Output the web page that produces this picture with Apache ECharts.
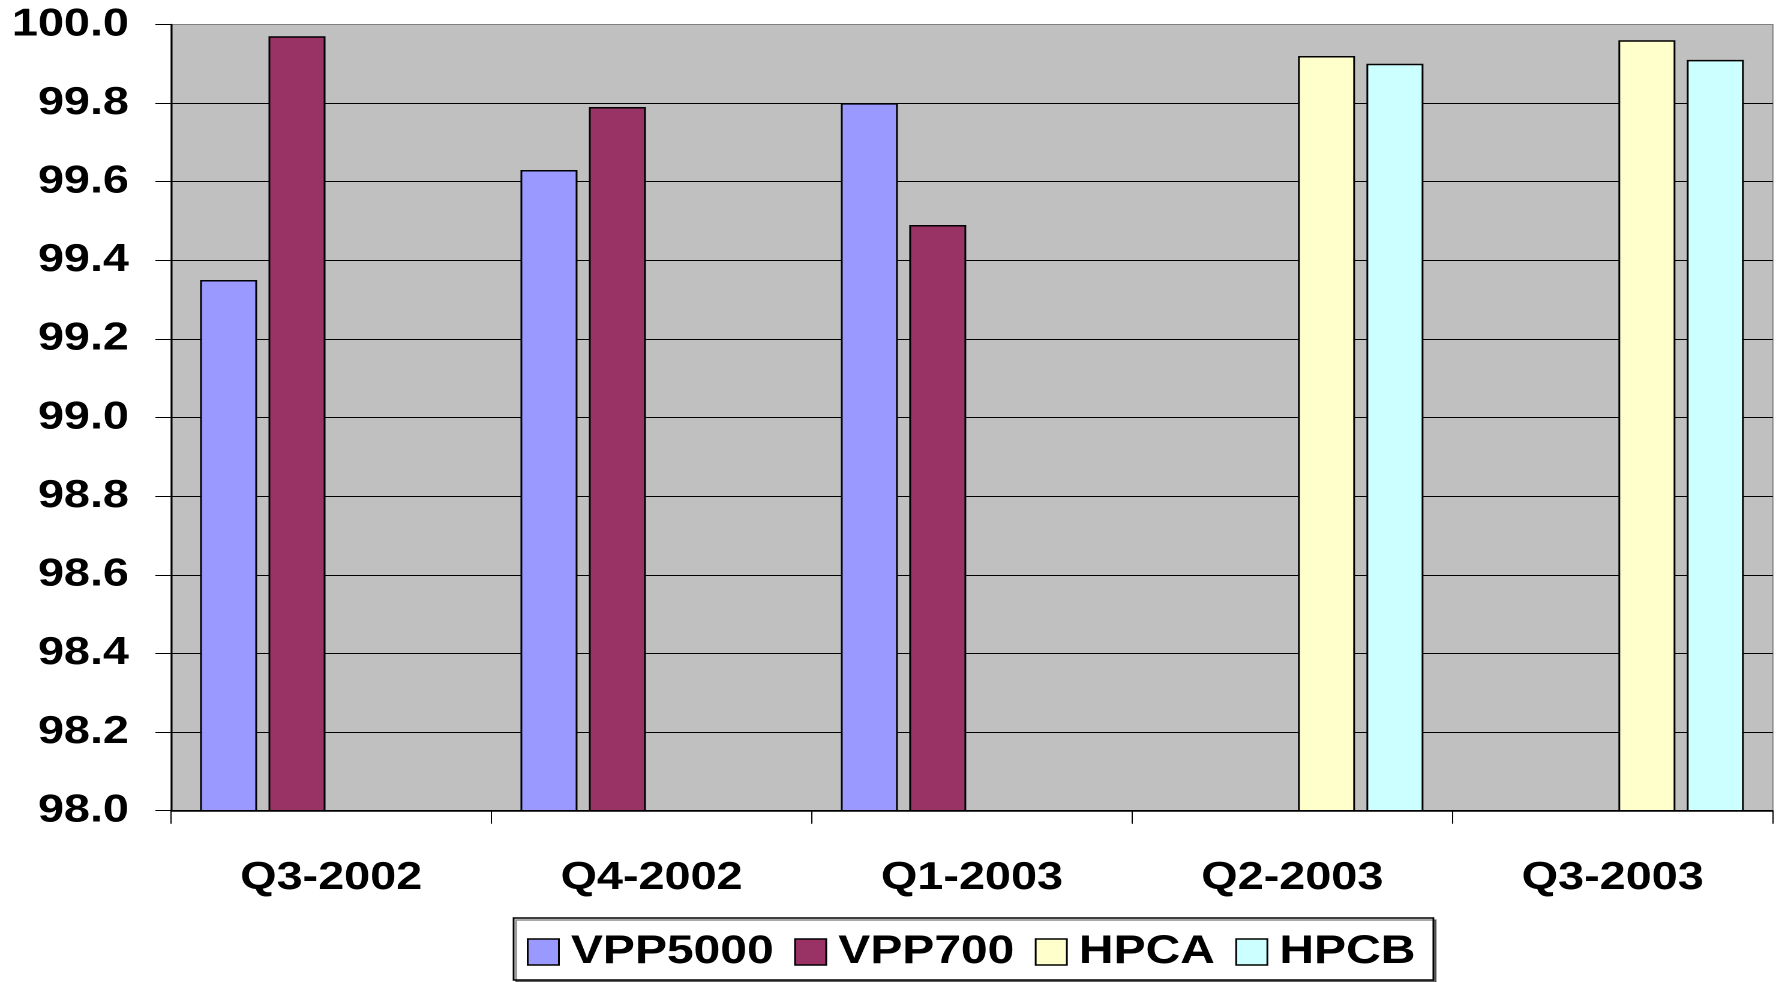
<!DOCTYPE html>
<html>
<head>
<meta charset="utf-8">
<title>Availability by quarter</title>
<script src="https://cdn.jsdelivr.net/npm/echarts@6/dist/echarts.min.js"></script>
<style>
  html, body { margin: 0; padding: 0; background: #fff; overflow: hidden; }
  /* The chart is laid out on a narrower canvas and widened by 1.2x,
     which gives the wide, stretched lettering of the original slide. */
  #chart {
    width: 1483.33px;
    height: 982px;
    transform: scaleX(1.2);
    transform-origin: 0 0;
  }
</style>
</head>
<body>
<div id="chart"></div>
<script>
// Quarterly availability (%) per machine
const quarters = ['Q3-2002', 'Q4-2002', 'Q1-2003', 'Q2-2003', 'Q3-2003'];
const vpp5000 = [99.35, 99.63, 99.80, null, null];
const vpp700  = [99.97, 99.79, 99.49, null, null];
const hpca    = [null, null, null, 99.92, 99.96];
const hpcb    = [null, null, null, 99.90, 99.91];

const seriesNames  = ['VPP5000', 'VPP700', 'HPCA', 'HPCB'];
const seriesValues = [vpp5000, vpp700, hpca, hpcb];
const seriesColors = ['#9999FF', '#993366', '#FFFFCC', '#CCFFFF'];

const yMin = 98.0, yMax = 100.0, yStep = 0.2;

const FONT = '"Liberation Sans", Arial, Helvetica, sans-serif';

const chart = echarts.init(document.getElementById('chart'), null, {
  renderer: 'canvas',
  devicePixelRatio: 2
});

chart.setOption({
  animation: false,
  backgroundColor: '#ffffff',
  grid: {
    left: 142.5,
    right: 5.6,
    top: 24.5,
    bottom: 171.3,
    show: true,
    backgroundColor: '#C0C0C0',
    borderColor: '#808080',
    borderWidth: 1
  },
  legend: {
    data: seriesNames,
    left: 428,
    top: 918,
    orient: 'horizontal',
    icon: 'rect',
    itemWidth: 26,
    itemHeight: 26,
    itemGap: 17,
    padding: [14, 15, 8, 11],
    backgroundColor: '#ffffff',
    borderColor: '#000000',
    borderWidth: 1.5,
    shadowColor: 'rgba(0,0,0,0.45)',
    shadowOffsetX: 2,
    shadowOffsetY: 2,
    shadowBlur: 0,
    itemStyle: { borderColor: '#000000', borderWidth: 1.5 },
    textStyle: {
      fontFamily: FONT,
      fontSize: 40,
      fontWeight: 'bold',
      color: '#000000',
      padding: [0, 0, 0, 5]
    }
  },
  xAxis: {
    type: 'category',
    data: quarters,
    boundaryGap: true,
    axisLine: { show: true, lineStyle: { color: '#000000', width: 1.5 } },
    axisTick: { show: true, length: 13, alignWithLabel: false, lineStyle: { color: '#000000', width: 1 } },
    axisLabel: {
      fontFamily: FONT,
      fontSize: 39,
      fontWeight: 'bold',
      color: '#000000',
      margin: 48
    },
    splitLine: { show: false }
  },
  yAxis: {
    type: 'value',
    min: yMin,
    max: yMax,
    interval: yStep,
    axisLine: { show: true, lineStyle: { color: '#000000', width: 1.5 } },
    axisTick: { show: true, length: 13, inside: false, lineStyle: { color: '#000000', width: 1 } },
    axisLabel: {
      fontFamily: FONT,
      fontSize: 39,
      fontWeight: 'bold',
      color: '#000000',
      margin: 35,
      formatter: v => v.toFixed(1)
    },
    splitLine: {
      show: true,
      showMaxLine: false,
      lineStyle: { color: '#000000', width: 1 }
    }
  },
  series: seriesNames.map((name, i) => ({
    name: name,
    type: 'bar',
    data: seriesValues[i],
    barWidth: 47.5,
    barGap: '20%',
    itemStyle: {
      color: seriesColors[i],
      borderColor: '#000000',
      borderWidth: 1.5
    }
  }))
});
</script>
</body>
</html>
